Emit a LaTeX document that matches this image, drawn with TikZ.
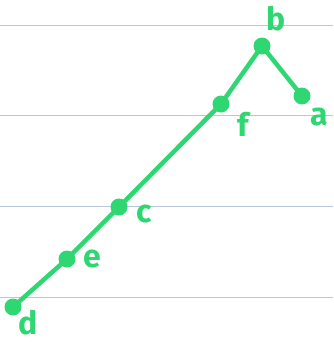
\documentclass[tikz,border=0pt]{standalone}
\usepackage{fontspec}
\setmainfont{Fira Sans}
\definecolor{pen}{HTML}{2FD772}
\definecolor{rule}{HTML}{B9C7DE}
\begin{document}
\begin{tikzpicture}[x=1pt,y=-1pt,
  ruleline/.style={rule,line width=1pt},
  dot/.style={circle,fill=pen,inner sep=0pt,minimum size=17pt},
  lbl/.style={text=pen,font=\fontsize{32}{32}\selectfont\bfseries,inner sep=0pt},
  edge/.style={pen,line width=4.5pt,line cap=round}]
\useasboundingbox (0,0) rectangle (333,343);
\foreach \y in {25,115,206,297} \draw[ruleline] (0,\y) -- (333,\y);
\node[dot] (b) at (262,46) {};
\node[dot] (a) at (302,96) {};
\node[dot] (f) at (221,104) {};
\node[dot] (c) at (119,207) {};
\node[dot] (e) at (67,259) {};
\node[dot] (d) at (13,307) {};
\draw[edge] (d.center) -- (e.center) -- (c.center) -- (f.center) -- (b.center) -- (a.center);
\node[lbl] (lb) at (276,19) {b};
\node[lbl] (la) at (319,117) {a};
\node[lbl] (lf) at (243,124) {f};
\node[lbl] (lc) at (144,214) {c};
\node[lbl] (le) at (92,259) {e};
\node[lbl] (ld) at (28,323) {d};
\end{tikzpicture}
\end{document}
